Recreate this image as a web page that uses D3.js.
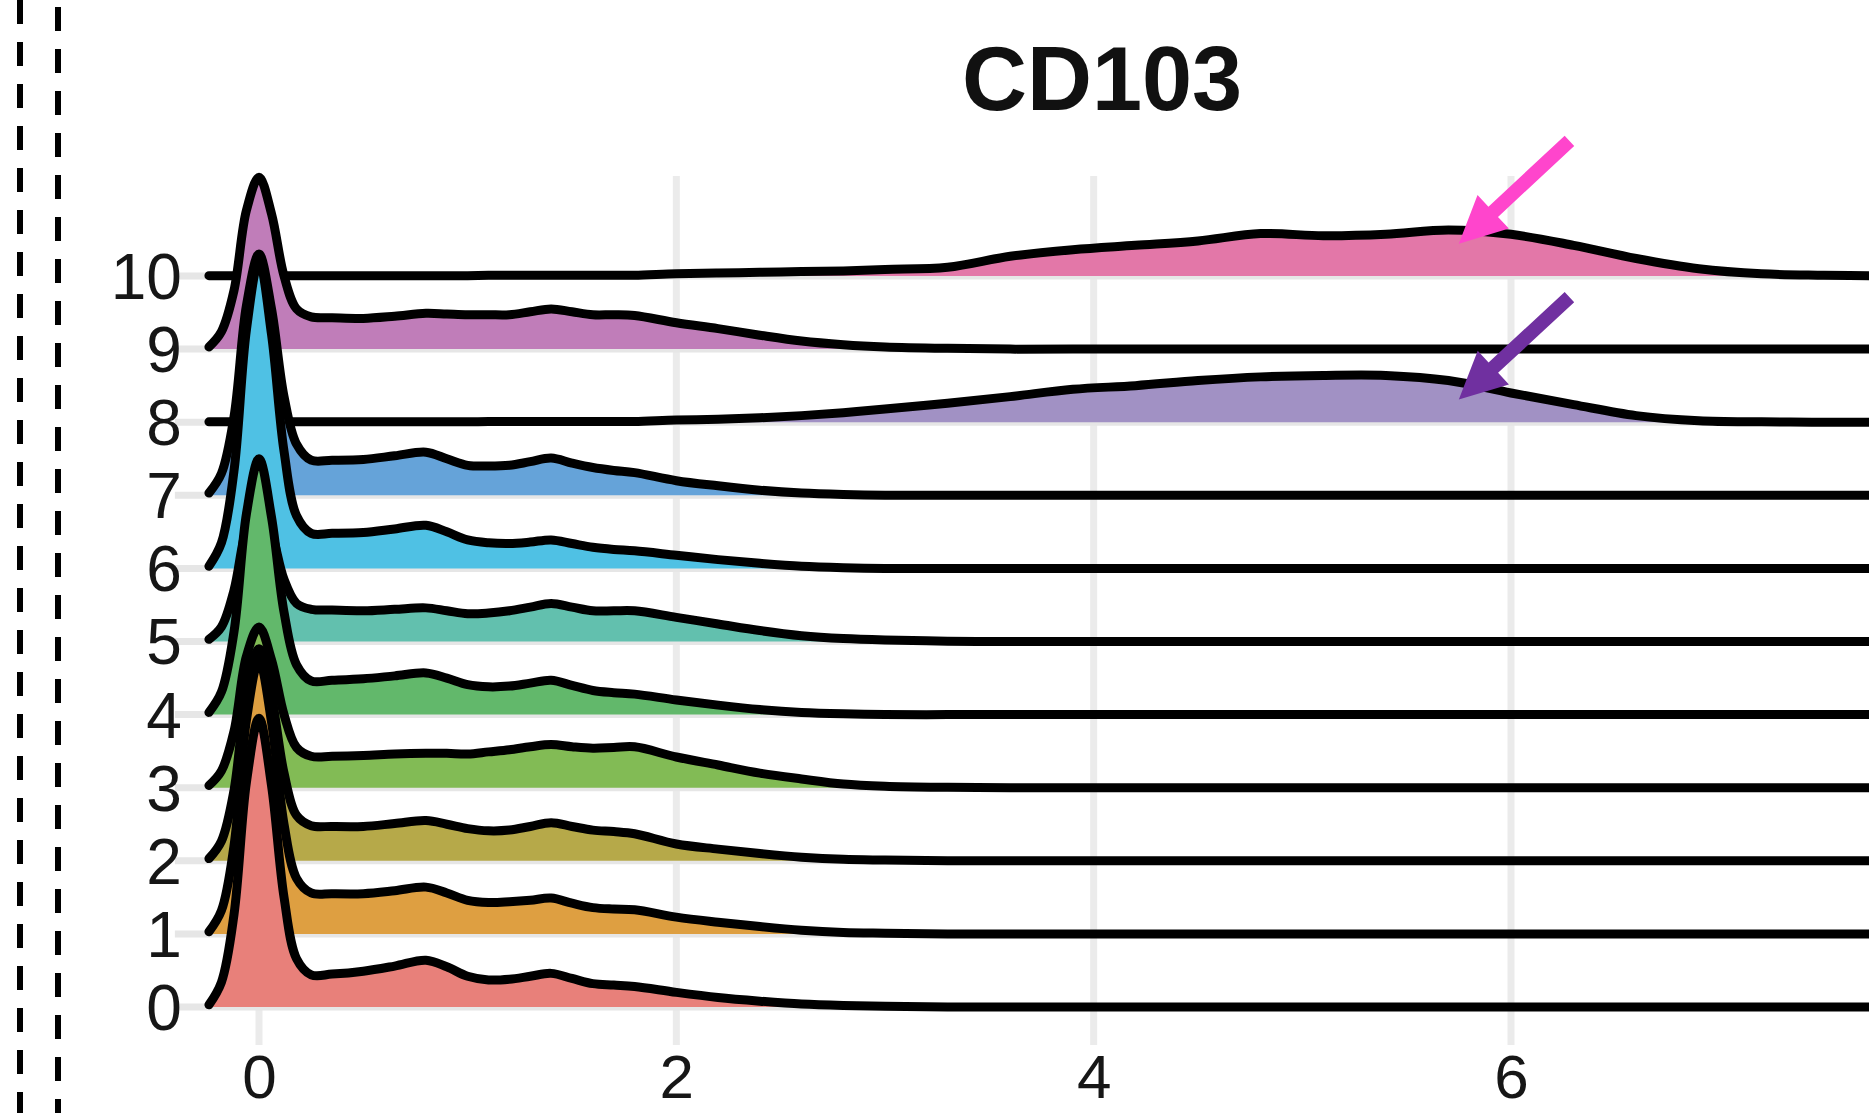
<!DOCTYPE html>
<html>
<head>
<meta charset="utf-8">
<script src="https://cdn.jsdelivr.net/npm/d3@7/dist/d3.min.js"></script>
<style>
	html, body { margin: 0; padding: 0; background: #fff; }
	svg { display: block; }
</style>
</head>
<body>
<svg id="chart" width="1869" height="1113"></svg>
<script>
(function() {
	'use strict';

	//data: clusters, x grid and ridge heights (in row spacings)
	var clusters = ['0', '1', '2', '3', '4', '5', '6', '7', '8', '9', '10'],
		xTicks = [0, 2, 4, 6],
		title = 'CD103',
		xs = [-0.24, -0.18, -0.12, -0.06, 0, 0.06, 0.12, 0.18, 0.25, 0.35,
			0.5, 0.65, 0.8, 0.9, 1.0, 1.1, 1.2, 1.3, 1.4, 1.5,
			1.6, 1.7, 1.8, 2.0, 2.2, 2.4, 2.6, 2.8, 3.0, 3.3,
			3.6, 3.9, 4.2, 4.5, 4.8, 5.1, 5.4, 5.7, 6.0, 6.3,
			6.6, 6.9, 7.2, 7.5, 7.8],
		dens0 = [0.03, 0.34, 1.26, 3.08, 3.95, 3.03, 1.5, 0.66, 0.44, 0.45,
			0.49, 0.56, 0.64, 0.55, 0.42, 0.37, 0.38, 0.42, 0.46, 0.39,
			0.32, 0.30, 0.28, 0.20, 0.13, 0.08, 0.04, 0.02, 0.01, 0,
			0, 0, 0, 0, 0, 0, 0, 0, 0, 0, 0, 0, 0, 0, 0],
		dens1 = [0.03, 0.32, 1.2, 2.93, 3.74, 2.9, 1.5, 0.76, 0.56, 0.55,
			0.55, 0.59, 0.64, 0.56, 0.46, 0.43, 0.44, 0.46, 0.49, 0.42,
			0.36, 0.34, 0.33, 0.23, 0.16, 0.10, 0.05, 0.02, 0.01, 0,
			0, 0, 0, 0, 0, 0, 0, 0, 0, 0, 0, 0, 0, 0, 0],
		dens2 = [0.03, 0.27, 0.96, 2.3, 2.9, 2.25, 1.2, 0.62, 0.48, 0.47,
			0.47, 0.51, 0.55, 0.5, 0.44, 0.41, 0.42, 0.47, 0.52, 0.47,
			0.42, 0.40, 0.37, 0.23, 0.16, 0.10, 0.05, 0.02, 0.01, 0,
			0, 0, 0, 0, 0, 0, 0, 0, 0, 0, 0, 0, 0, 0, 0],
		dens3 = [0.03, 0.23, 0.77, 1.8, 2.2, 1.75, 1.0, 0.55, 0.43, 0.43,
			0.44, 0.46, 0.47, 0.47, 0.46, 0.49, 0.52, 0.56, 0.59, 0.56,
			0.54, 0.55, 0.56, 0.42, 0.31, 0.20, 0.12, 0.05, 0.02, 0.005,
			0, 0, 0, 0, 0, 0, 0, 0, 0, 0, 0, 0, 0, 0, 0],
		dens4 = [0.03, 0.31, 1.13, 2.75, 3.5, 2.7, 1.4, 0.68, 0.46, 0.47,
			0.49, 0.53, 0.57, 0.5, 0.41, 0.38, 0.39, 0.43, 0.47, 0.40,
			0.33, 0.30, 0.28, 0.20, 0.13, 0.07, 0.03, 0.01, 0, 0,
			0, 0, 0, 0, 0, 0, 0, 0, 0, 0, 0, 0, 0, 0, 0],
		dens5 = [0.03, 0.2, 0.7, 1.55, 1.9, 1.5, 0.85, 0.52, 0.44, 0.43,
			0.42, 0.44, 0.46, 0.42, 0.38, 0.39, 0.42, 0.47, 0.52, 0.47,
			0.42, 0.42, 0.42, 0.33, 0.24, 0.15, 0.08, 0.04, 0.02, 0.005,
			0, 0, 0, 0, 0, 0, 0, 0, 0, 0, 0, 0, 0, 0, 0],
		dens6 = [0.03, 0.35, 1.33, 3.27, 4.2, 3.2, 1.6, 0.72, 0.48, 0.48,
			0.49, 0.54, 0.59, 0.5, 0.39, 0.35, 0.34, 0.36, 0.39, 0.34,
			0.29, 0.26, 0.24, 0.18, 0.12, 0.07, 0.03, 0.01, 0, 0,
			0, 0, 0, 0, 0, 0, 0, 0, 0, 0, 0, 0, 0, 0, 0],
		dens7 = [0.03, 0.3, 1.07, 2.6, 3.3, 2.55, 1.35, 0.7, 0.48, 0.48,
			0.49, 0.54, 0.59, 0.5, 0.41, 0.40, 0.41, 0.46, 0.51, 0.44,
			0.38, 0.34, 0.31, 0.20, 0.13, 0.07, 0.03, 0.01, 0, 0,
			0, 0, 0, 0, 0, 0, 0, 0, 0, 0, 0, 0, 0, 0, 0],
		dens8 = [0.005, 0.005, 0.005, 0.005, 0.005, 0.005, 0.005, 0.005, 0.005, 0.005,
			0.005, 0.005, 0.005, 0.005, 0.005, 0.01, 0.01, 0.01, 0.01, 0.01,
			0.01, 0.01, 0.01, 0.03, 0.04, 0.06, 0.09, 0.13, 0.18, 0.26,
			0.35, 0.45, 0.50, 0.57, 0.62, 0.64, 0.64, 0.57, 0.40, 0.24,
			0.09, 0.02, 0.005, 0, 0],
		dens9 = [0.03, 0.24, 0.8, 1.9, 2.35, 1.85, 1.0, 0.55, 0.44, 0.43,
			0.42, 0.45, 0.49, 0.48, 0.47, 0.47, 0.47, 0.51, 0.55, 0.51,
			0.47, 0.47, 0.46, 0.36, 0.28, 0.19, 0.11, 0.06, 0.03, 0.01,
			0, 0, 0, 0, 0, 0, 0, 0, 0, 0, 0, 0, 0, 0, 0],
		dens10 = [0.005, 0.005, 0.005, 0.005, 0.005, 0.005, 0.005, 0.005, 0.005, 0.005,
			0.005, 0.005, 0.005, 0.005, 0.005, 0.01, 0.01, 0.01, 0.01, 0.01,
			0.01, 0.01, 0.01, 0.03, 0.04, 0.05, 0.06, 0.07, 0.09, 0.12,
			0.27, 0.36, 0.42, 0.48, 0.58, 0.55, 0.57, 0.63, 0.57, 0.42,
			0.24, 0.10, 0.03, 0.01, 0],
		densities = [dens0, dens1, dens2, dens3, dens4, dens5, dens6, dens7, dens8, dens9, dens10],
		fills = ['#E8807A', '#DE9F41', '#B6A949', '#82BB55', '#62B86B', '#62C0AE',
			'#4FC1E4', '#65A3D9', '#A191C4', '#C07DB9', '#E377A8'],

		//arrow annotations: cluster, tail (x, height) and tip (x, height)
		arrowRows = ['10', '8'],
		arrowTails = [[6.28, 1.85], [6.28, 1.71]],
		arrowTips = [[5.75, 0.44], [5.75, 0.31]],
		arrowColors = ['#FF45CC', '#7030A0'];

	//layout
	var svg = d3.select('#chart'),
		width = 1869,
		font = '"Liberation Sans", Arial, Helvetica, sans-serif',
		x = d3.scaleLinear().domain([0, 6]).range([259, 1511]),
		y = d3.scalePoint().domain(clusters).range([1007, 276]),
		h = d3.scaleLinear().domain([0, 1]).range([0, 73.1]),
		panelLeft = x(-0.245),
		panelTop = 176,
		panelBottom = 1045;

	function ridgeData(i) {
		var base = y(clusters[i]);
		return xs.map(function(v, j) {
			return { x: v, base: base, top: base - h(densities[i][j]) };
		});
	}

	function arrowPoints(p0, p1, shaftW, headL, headW) {
		var dx = p1[0] - p0[0],
			dy = p1[1] - p0[1],
			len = Math.sqrt(dx * dx + dy * dy),
			ux = dx / len,
			uy = dy / len,
			nx = -uy,
			ny = ux,
			bx = p1[0] - ux * headL,
			by = p1[1] - uy * headL;
		return [
			[p0[0] + nx * shaftW / 2, p0[1] + ny * shaftW / 2],
			[bx + nx * shaftW / 2, by + ny * shaftW / 2],
			[bx + nx * headW / 2, by + ny * headW / 2],
			p1,
			[bx - nx * headW / 2, by - ny * headW / 2],
			[bx - nx * shaftW / 2, by - ny * shaftW / 2],
			[p0[0] - nx * shaftW / 2, p0[1] - ny * shaftW / 2]
		];
	}

	//dashed frame lines on the left
	svg.selectAll('line.frame')
		.data([20, 58])
		.enter().append('line')
		.attr('class', 'frame')
		.attr('x1', function(d) { return d; })
		.attr('x2', function(d) { return d; })
		.attr('y1', 0)
		.attr('y2', 1113)
		.attr('stroke', '#000')
		.attr('stroke-width', 6)
		.attr('stroke-dasharray', '24 18')
		.attr('stroke-dashoffset', function(d, i) { return i ? -7 : 0; });

	//grid
	svg.append('g').selectAll('line')
		.data(xTicks)
		.enter().append('line')
		.attr('x1', function(d) { return x(d); })
		.attr('x2', function(d) { return x(d); })
		.attr('y1', panelTop)
		.attr('y2', panelBottom)
		.attr('stroke', '#EBEBEB')
		.attr('stroke-width', 7);

	svg.append('g').selectAll('line')
		.data(clusters)
		.enter().append('line')
		.attr('x1', panelLeft - 33)
		.attr('x2', width)
		.attr('y1', function(d) { return y(d); })
		.attr('y2', function(d) { return y(d); })
		.attr('stroke', '#E6E6E6')
		.attr('stroke-width', 7);

	//ridges, top cluster first so lower ones sit on top
	var curve = d3.curveCatmullRom.alpha(0.5),
		area = d3.area()
			.x(function(d) { return x(d.x); })
			.y0(function(d) { return d.base; })
			.y1(function(d) { return d.top; })
			.curve(curve),
		line = d3.line()
			.x(function(d) { return x(d.x); })
			.y(function(d) { return d.top; })
			.curve(curve),
		ridges = svg.append('g');

	d3.range(clusters.length - 1, -1, -1).forEach(function(i) {
		var pts = ridgeData(i);
		ridges.append('path')
			.attr('d', area(pts))
			.attr('fill', fills[i]);
		ridges.append('path')
			.attr('d', line(pts))
			.attr('fill', 'none')
			.attr('stroke', '#000')
			.attr('stroke-width', 9)
			.attr('stroke-linejoin', 'round')
			.attr('stroke-linecap', 'round');
	});

	//axes
	var xAxis = svg.append('g')
		.attr('transform', 'translate(0,1054)')
		.call(d3.axisBottom(x).tickValues(xTicks).tickFormat(d3.format('d'))
			.tickSize(0).tickPadding(0));
	var yAxis = svg.append('g')
		.attr('transform', 'translate(' + (panelLeft - 26) + ',0)')
		.call(d3.axisLeft(y).tickSize(0).tickPadding(0));

	[xAxis, yAxis].forEach(function(ax) {
		ax.select('.domain').remove();
		ax.selectAll('text')
			.attr('fill', '#161616')
			.style('font-family', font)
			.style('font-size', '64px');
	});
	xAxis.selectAll('text').style('font-size', '62px');
	yAxis.selectAll('text').attr('dy', '0.35em');

	//title
	svg.append('text')
		.attr('x', 1102)
		.attr('y', 110)
		.attr('text-anchor', 'middle')
		.style('font-family', font)
		.style('font-weight', 'bold')
		.style('font-size', '90px')
		.attr('fill', '#111')
		.text(title);

	//arrows
	arrowRows.forEach(function(c, i) {
		var base = y(c),
			p0 = [x(arrowTails[i][0]), base - h(arrowTails[i][1])],
			p1 = [x(arrowTips[i][0]), base - h(arrowTips[i][1])];
		svg.append('polygon')
			.attr('points', arrowPoints(p0, p1, 14, 47, 46).join(' '))
			.attr('fill', arrowColors[i]);
	});
})();
</script>
</body>
</html>
